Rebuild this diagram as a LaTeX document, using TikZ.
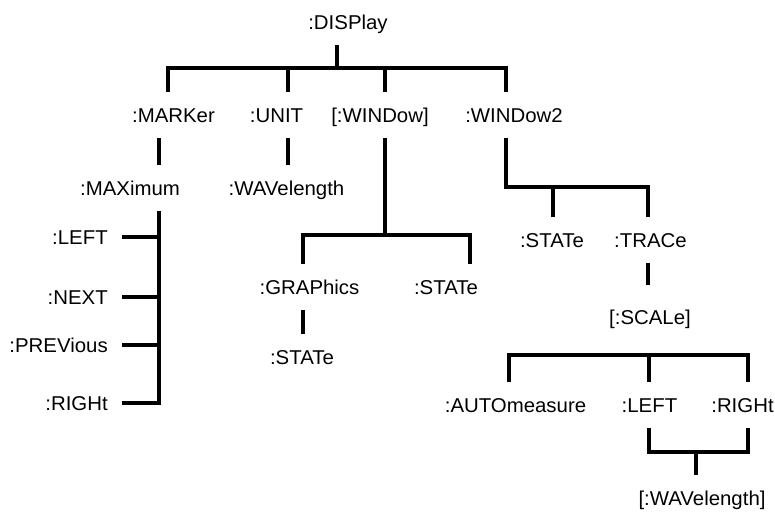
\documentclass[tikz,border=0pt]{standalone}
\usepackage{fontspec}
\setmainfont{Liberation Sans}[FakeStretch=1.02]
\begin{document}
\begin{tikzpicture}[x=0.75pt,y=-0.75pt,
  lbl/.style={inner sep=0pt, minimum height=34.5pt, text height=10.8pt, text depth=0pt,
              font=\fontsize{15}{17}\selectfont, text=black},
  rlbl/.style={lbl, anchor=east, inner xsep=10.5pt},
  ln/.style={line width=2.7pt, line cap=butt, line join=miter}]
\useasboundingbox (0,0) rectangle (775,517);
\fill[white] (0,0) rectangle (775,517);
% nodes
\node[lbl] (dis) at (348,22) {:DISPlay};
\node[lbl] (mark) at (173.5,115) {:MARKer};
\node[lbl] (unit) at (276.5,115) {:UNIT};
\node[lbl] (win) at (380,115) {[:WINDow]};
\node[lbl] (win2) at (514,115) {:WINDow2};
\node[lbl] (max) at (130,188) {:MAXimum};
\node[lbl] (wav) at (286.5,188) {:WAVelength};
\node[rlbl] (mleft) at (122,237) {:LEFT};
\node[rlbl] (mnext) at (122,297) {:NEXT};
\node[rlbl] (mprev) at (122,345) {:PREVious};
\node[rlbl] (mright) at (122,403) {:RIGHt};
\node[lbl] (gra) at (309.5,287) {:GRAPhics};
\node[lbl] (gstate) at (302,357) {:STATe};
\node[lbl] (wstate) at (446,287) {:STATe};
\node[lbl] (w2state) at (552,240) {:STATe};
\node[lbl] (trace) at (650.5,240) {:TRACe};
\node[lbl] (scale) at (650,317) {[:SCALe]};
\node[lbl] (auto) at (515.5,405) {:AUTOmeasure};
\node[lbl] (sleft) at (649.5,405) {:LEFT};
\node[lbl] (sright) at (742.5,405) {:RIGHt};
\node[lbl] (swav) at (702,498) {[:WAVelength]};
% junction coordinates
\coordinate (j0) at (337,68);
\coordinate (b0l) at (168,68);
\coordinate (b0r) at (506,68);
\coordinate (d1) at (288,68);
\coordinate (d2) at (385,68);
\coordinate (j1) at (385,235);
\coordinate (b1l) at (303,235);
\coordinate (b1r) at (470,235);
\coordinate (j2) at (506,187);
\coordinate (b2m) at (553,187);
\coordinate (b2r) at (648,187);
\coordinate (mt) at (159,403);
\coordinate (b3l) at (509,355);
\coordinate (b3m) at (649,355);
\coordinate (b3r) at (748,355);
\coordinate (b4l) at (649,452);
\coordinate (b4m) at (696,452);
\coordinate (b4r) at (748,452);
% connectors
\draw[ln] (dis.south -| j0) -- (j0);
\draw[ln] (mark.north -| b0l) -- (b0l) -- (b0r) -- (win2.north -| b0r);
\draw[ln] (unit.north -| d1) -- (d1);
\draw[ln] (win.north -| d2) -- (d2);
\draw[ln] (mark.south -| mt) -- (max.north -| mt);
\draw[ln] (unit.south -| d1) -- (wav.north -| d1);
\draw[ln] (max.south -| mt) -- (mt) -- (mright.east);
\draw[ln] (mleft.east) -- (mleft.east -| mt);
\draw[ln] (mnext.east) -- (mnext.east -| mt);
\draw[ln] (mprev.east) -- (mprev.east -| mt);
\draw[ln] (win.south -| j1) -- (j1);
\draw[ln] (gra.north -| b1l) -- (b1l) -- (b1r) -- (wstate.north -| b1r);
\draw[ln] (gra.south -| b1l) -- (gstate.north -| b1l);
\draw[ln] (win2.south -| j2) -- (j2) -- (b2r) -- (trace.north -| b2r);
\draw[ln] (b2m) -- (w2state.north -| b2m);
\draw[ln, shorten >=6.75pt] (trace.south -| b2r) -- (scale.north -| b2r);
\draw[ln] (auto.north -| b3l) -- (b3l) -- (b3r) -- (sright.north -| b3r);
\draw[ln] (b3m) -- (sleft.north -| b3m);
\draw[ln] (sleft.south -| b4l) -- (b4l) -- (b4r) -- (sright.south -| b4r);
\draw[ln] (b4m) -- (swav.north -| b4m);
\end{tikzpicture}
\end{document}
